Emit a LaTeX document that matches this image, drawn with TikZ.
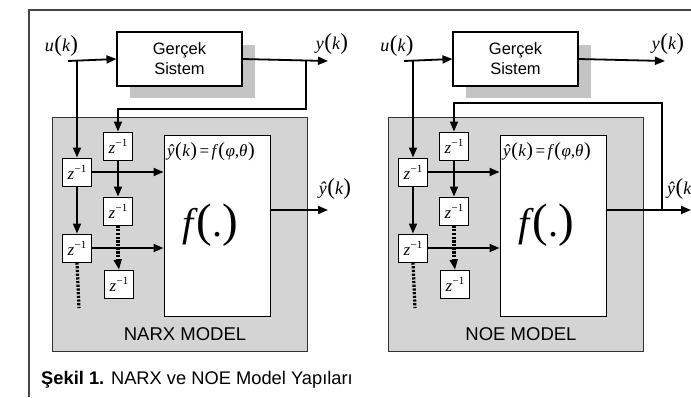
\documentclass[tikz,border=0pt]{standalone}
\usepackage{fontspec}
\setmainfont{Liberation Sans}
\newfontfamily\tms{Liberation Serif}
\usetikzlibrary{arrows.meta}
\definecolor{panelgray}{RGB}{212,212,212}
\definecolor{shadowgray}{RGB}{196,196,196}
\definecolor{framegray}{RGB}{70,70,70}
\newcommand{\mi}[1]{{\tms\itshape #1}}
\newcommand{\bigpar}[1]{{\tms\fontsize{23}{23}\selectfont #1}}
\newcommand{\fnlbl}[2]{{\fontsize{18}{20}\selectfont\mi{#1}\kern0.5pt\bigpar{(}\mi{#2}\kern0.5pt\bigpar{)}}}
\newcommand{\zinv}{{\fontsize{17}{18}\selectfont\mi{z}\raisebox{0.42em}{\tms\fontsize{11}{11}\selectfont\kern0.3pt−1}}}
\newcommand{\fdot}{{\fontsize{40}{42}\selectfont\mi{f}\kern3pt{\tms\fontsize{47}{47}\selectfont(}{\tms.}{\tms\fontsize{47}{47}\selectfont)}}}
\newcommand{\mpar}[1]{{\tms\fontsize{20}{20}\selectfont #1}}
\newcommand{\modeleq}{{\fontsize{17}{18}\selectfont\mi{ŷ}\kern0.5pt\mpar{(}\kern0.5pt\mi{k}\kern0.5pt\mpar{)}\kern2.5pt{\tms=}\kern2.5pt\mi{f}\kern2pt\mpar{(}\kern0.5pt\mi{φ}{\tms,}\mi{θ}\kern0.5pt\mpar{)}}}
\tikzset{
  sysbox/.style={draw, fill=white, line width=1.1pt, minimum width=125pt, minimum height=54pt, align=center, inner sep=0pt, font=\fontsize{16.5}{20}\selectfont},
  zbox/.style={draw, fill=white, line width=1pt, minimum width=29pt, minimum height=28pt, inner sep=0pt},
  fbox/.style={draw, fill=white, line width=1pt, minimum width=106pt, minimum height=181pt, inner sep=0pt},
  panel/.style={draw=black!80, fill=panelgray, line width=0.9pt, minimum width=255pt, minimum height=234pt, inner sep=0pt},
  sig/.style={line width=1.8pt, -{Triangle[length=10pt,width=8pt]}},
  dotline/.style={line width=3.2pt, dash pattern=on 2.2pt off 1.5pt},
  lbl/.style={inner sep=0pt},
  mlabel/.style={inner sep=0pt, font=\fontsize{18.5}{20}\selectfont}
}
\begin{document}
\begin{tikzpicture}[x=1pt, y=-1pt]
\useasboundingbox (0,0) rectangle (691,397);
\fill[white] (0,0) rectangle (691,397);
% outer frame
\draw[framegray, line width=1.5pt] (29,397) -- (29,10) -- (691,10);

% ===================== LEFT: NARX =====================
\fill[shadowgray] (130,45) rectangle (255,98);
\node[sysbox] (Lsys) at (179.5,59) {Gerçek\\Sistem};
\node[panel] (Lg) at (179.5,234) {};
\node[fbox] (Lf) at (217,225.5) {};
\node[lbl, anchor=west] (Leq) at (167,152) {\modeleq};
\node[lbl] (Lfx) at (210,225) {\fdot};
\node[mlabel] (Lname) at (185,334) {NARX MODEL};

\node[zbox] (Lu1) at (77,172) {\zinv};
\node[zbox] (Lu2) at (77,248) {\zinv};
\node[zbox] (Ly1) at (118,146) {\zinv};
\node[zbox] (Ly2) at (118,211) {\zinv};
\node[zbox] (Ly3) at (119,284) {\zinv};

\node[lbl] (Luk) at (61.5,46) {\fnlbl{u}{k}};
\node[lbl] (Lyk) at (332,44) {\fnlbl{y}{k}};
\node[lbl] (Lyh) at (335,189) {\fnlbl{ŷ}{k}};

\coordinate (Lin) at (68,61);
\coordinate (Lyout) at (328,61);
\coordinate (Lbr) at (306,61);
\coordinate (Lfb) at (306,109);
\coordinate (Lhat) at (328,210);
\coordinate (Lud) at (79,308);
\coordinate (Lyd) at (118,262);

\draw[sig] (Lin) -- (Lsys.west);
\draw[sig] (Lsys.east) -- (Lyout);
\draw[sig] (Lu1.north |- Lin) -- (Lu1.north);
\draw[sig] (Lu1.south) -- (Lu2.north);
\draw[dotline] (Lu2.south) -- (Lud);
\draw[sig] (Lu1.east) -- (Lu1.east -| Lf.west);
\draw[sig] (Lu2.east) -- (Lu2.east -| Lf.west);
\draw[sig] (Lbr) -- (Lfb) -| (Ly1.north);
\draw[sig] (Ly1.south) -- (Ly2.north);
\draw[dotline] (Ly2.south) -- (Lyd);
\draw[sig] (Lyd) -- (Ly3.north);
\draw[sig] (Lf.east |- Lhat) -- (Lhat);

% ===================== RIGHT: NOE =====================
\fill[shadowgray] (466,45) rectangle (591,98);
\node[sysbox] (Rsys) at (515.5,59) {Gerçek\\Sistem};
\node[panel] (Rg) at (515.5,234) {};
\node[fbox] (Rf) at (553,225.5) {};
\node[lbl, anchor=west] (Req) at (503,152) {\modeleq};
\node[lbl] (Rfx) at (546,225) {\fdot};
\node[mlabel] (Rname) at (521,334) {NOE MODEL};

\node[zbox] (Ru1) at (413,172) {\zinv};
\node[zbox] (Ru2) at (413,248) {\zinv};
\node[zbox] (Ry1) at (454,146) {\zinv};
\node[zbox] (Ry2) at (454,211) {\zinv};
\node[zbox] (Ry3) at (455,284) {\zinv};

\node[lbl] (Ruk) at (397,46) {\fnlbl{u}{k}};
\node[lbl] (Ryk) at (668,44) {\fnlbl{y}{k}};
\node[lbl, anchor=west] (Ryh) at (667,189) {\fnlbl{ŷ}{k}};

\coordinate (Rin) at (404,61);
\coordinate (Ryout) at (665,61);
\coordinate (Rhat) at (691,210);
\coordinate (Rbr) at (662,210);
\coordinate (Rfb) at (662,103);
\coordinate (Rud) at (415,308);
\coordinate (Ryd) at (454,262);

\draw[sig] (Rin) -- (Rsys.west);
\draw[sig] (Rsys.east) -- (Ryout);
\draw[sig] (Ru1.north |- Rin) -- (Ru1.north);
\draw[sig] (Ru1.south) -- (Ru2.north);
\draw[dotline] (Ru2.south) -- (Rud);
\draw[sig] (Ru1.east) -- (Ru1.east -| Rf.west);
\draw[sig] (Ru2.east) -- (Ru2.east -| Rf.west);
\draw[sig] (Rbr) -- (Rfb) -| (Ry1.north);
\draw[sig] (Ry1.south) -- (Ry2.north);
\draw[dotline] (Ry2.south) -- (Ryd);
\draw[sig] (Ryd) -- (Ry3.north);
\draw[sig] (Rf.east |- Rhat) -- (Rhat);

% caption
\node[lbl, anchor=west, font=\fontsize{18.3}{20}\selectfont] (cap) at (41,380) {\textbf{Şekil 1.} NARX ve NOE Model Yapıları};
\end{tikzpicture}
\end{document}
